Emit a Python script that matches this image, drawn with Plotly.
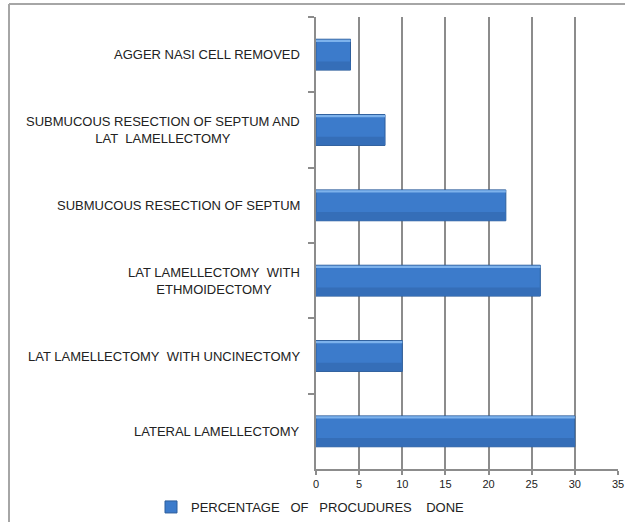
import plotly.graph_objects as go

# Data (top to bottom as in the reference)
categories = [
    "AGGER NASI CELL REMOVED",
    "SUBMUCOUS RESECTION OF SEPTUM AND<br>LAT\u00a0 LAMELLECTOMY",
    "SUBMUCOUS RESECTION OF SEPTUM",
    "LAT LAMELLECTOMY\u00a0 WITH<br>ETHMOIDECTOMY",
    "LAT LAMELLECTOMY\u00a0 WITH UNCINECTOMY",
    "LATERAL LAMELLECTOMY",
]
values = [4, 8, 22, 26, 10, 30]
series_name = "PERCENTAGE\u00a0\u00a0 OF\u00a0\u00a0 PROCUDURES\u00a0\u00a0\u00a0 DONE"
x_ticks = [0, 5, 10, 15, 20, 25, 30, 35]

FONT = "Liberation Sans, Arial, sans-serif"
BAR_W = 0.41

fig = go.Figure()

# main bar
fig.add_trace(go.Bar(
    y=categories, x=values, orientation="h", name=series_name,
    width=BAR_W, offset=-BAR_W / 2,
    marker=dict(color="#3c7bcb", line=dict(color="#2d5e9c", width=1)),
    hoverinfo="x+y",
))
# slightly darker lower shading
fig.add_trace(go.Bar(
    y=categories, x=values, orientation="h", showlegend=False,
    width=0.11, offset=BAR_W / 2 - 0.115,
    marker=dict(color="#356eb8", line=dict(width=0)),
    hoverinfo="skip",
))
# light top highlight
fig.add_trace(go.Bar(
    y=categories, x=values, orientation="h", showlegend=False,
    width=0.03, offset=-BAR_W / 2 + 0.006,
    marker=dict(color="#7db2ec", line=dict(width=0)),
    hoverinfo="skip",
))

# category labels as annotations (right-aligned block, centered lines)
for cat in categories:
    fig.add_annotation(
        x=0, y=cat, xref="x", yref="y",
        text=cat, showarrow=False,
        xanchor="right", yanchor="middle", align="center",
        xshift=-14,
        font=dict(family=FONT, size=13, color="#222222"),
    )

# outer frame (partially visible)
W, H = 625, 522
L, R, T, B = 316, 7, 17, 53
pw, ph = W - L - R, H - T - B
def px(x):
    return (x - L) / pw
def py(y):
    return (H - B - y) / ph

frame_col = "#a6a6a6"
fig.add_shape(type="line", xref="paper", yref="paper",
              x0=px(9), x1=px(9), y0=py(4), y1=py(540),
              line=dict(color=frame_col, width=2))
fig.add_shape(type="line", xref="paper", yref="paper",
              x0=px(9), x1=px(640), y0=py(4), y1=py(4),
              line=dict(color=frame_col, width=2))

fig.update_layout(
    width=W, height=H,
    margin=dict(l=L, r=R, t=T, b=B, pad=0, autoexpand=False),
    paper_bgcolor="white", plot_bgcolor="white",
    barmode="overlay",
    font=dict(family=FONT, color="#222222"),
    showlegend=True,
    legend=dict(
        orientation="h", x=px(151), y=py(507), xanchor="left", yanchor="middle",
        font=dict(family=FONT, size=13, color="#222222"),
        itemwidth=30, bgcolor="rgba(0,0,0,0)",
    ),
    xaxis=dict(
        range=[0, 35], tickvals=x_ticks, ticktext=[str(v) for v in x_ticks],
        showgrid=True, gridcolor="#8c8c8c", gridwidth=1.5,
        showline=True, linecolor="#8c8c8c", linewidth=1.5,
        ticks="outside", ticklen=4, tickcolor="#8c8c8c", tickwidth=1.5,
        tickfont=dict(family=FONT, size=11, color="#222222"),
        ticklabeloverflow="allow", automargin=False,
        zeroline=False, fixedrange=True,
    ),
    yaxis=dict(
        type="category", range=[5.5, -0.5],
        showticklabels=False, tickson="boundaries",
        ticks="outside", ticklen=6, tickcolor="#8c8c8c", tickwidth=1.5,
        showgrid=False, showline=True, linecolor="#8c8c8c", linewidth=1.5,
        zeroline=False, fixedrange=True, automargin=False,
    ),
)

fig.write_html("out.html")
